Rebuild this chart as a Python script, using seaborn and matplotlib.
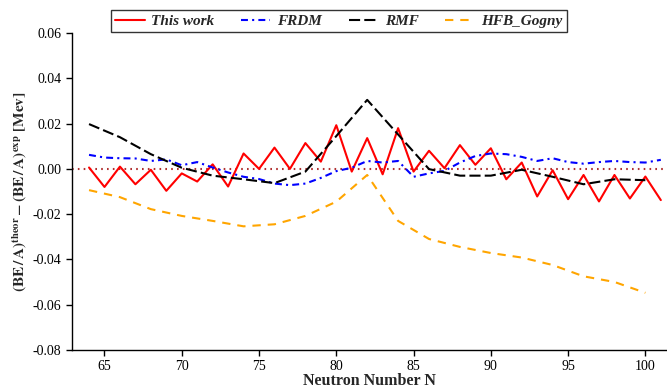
import numpy as np
import pandas as pd
import matplotlib
matplotlib.use("Agg")
import matplotlib.pyplot as plt
import seaborn as sns

sns.set_style("ticks")
plt.rcParams["font.family"] = ["Liberation Serif", "DejaVu Serif"]
plt.rcParams["mathtext.fontset"] = "stix"
plt.rcParams["lines.scale_dashes"] = False

# ---------------------------------------------------
# Data
# ---------------------------------------------------
n_all = list(range(64, 102))
this_work = [0.0006, -0.008, 0.001, -0.0068, -0.0004, -0.0097, -0.002, -0.0056,
             0.002, -0.0078, 0.0068, 0.000, 0.0094, 0.000, 0.0114, 0.0032,
             0.0193, -0.0012, 0.0136, -0.0024, 0.018, -0.0012, 0.008, 0.0003,
             0.0105, 0.0018, 0.0091, -0.0046, 0.0028, -0.0122, -0.0006, -0.0134,
             -0.0027, -0.0144, -0.0027, -0.0131, -0.0034, -0.0138]
frdm = [0.0062, 0.005, 0.0047, 0.0046, 0.0035, 0.0042, 0.0016, 0.003,
        0.0006, -0.0016, -0.0035, -0.0045, -0.0065, -0.0072, -0.0065, -0.004,
        -0.001, 0.0005, 0.0035, 0.0028, 0.0035, -0.0035, -0.002, -0.0009,
        0.0028, 0.0057, 0.0068, 0.0065, 0.0053, 0.0035, 0.0047, 0.003,
        0.0023, 0.003, 0.0035, 0.003, 0.0028, 0.004]

n_even = list(range(64, 101, 2))
rmf = [0.0198, 0.014, 0.0065, 0.0005, -0.003, -0.0046, -0.0063, -0.0012,
       0.0145, 0.0305, 0.0152, -0.0001, -0.003, -0.003, -0.0004, -0.0035,
       -0.0068, -0.0046, -0.005]
hfb_gogny = [-0.0094, -0.0125, -0.0178, -0.0208, -0.023, -0.0254, -0.0245,
             -0.0208, -0.0145, -0.0027, -0.023, -0.031, -0.0345, -0.0372,
             -0.0392, -0.0425, -0.0475, -0.050, -0.0548]

series = [
    ("This work", n_all, this_work, "#ff0000", "-"),
    ("FRDM", n_all, frdm, "#0000ff", (0, (5, 3, 1.5, 3))),
    ("RMF", n_even, rmf, "black", (0, (8, 3))),
    ("HFB_Gogny", n_even, hfb_gogny, "#ffa500", (0, (6, 5))),
]

# ---------------------------------------------------
# Plot
# ---------------------------------------------------
fig = plt.figure(figsize=(6.67, 3.9), dpi=100)
ax = fig.add_axes([0.108, 0.103, 0.892, 0.812])

ax.axhline(0, color="#b03030", lw=1.5, linestyle=(0, (1.2, 3)), zorder=1)

for name, xs, ys, col, ls in series:
    df = pd.DataFrame({"N": xs, "val": ys})
    sns.lineplot(data=df, x="N", y="val", color=col, linestyle=ls, lw=1.5,
                 label=name, ax=ax, legend=False)

ax.set_xlim(62.9, 101.4)
ax.set_ylim(-0.08, 0.06)
ax.set_xticks([65, 70, 75, 80, 85, 90, 95, 100])
ax.set_yticks(np.arange(-0.08, 0.061, 0.02))
ax.yaxis.set_major_formatter(matplotlib.ticker.FormatStrFormatter("%.2f"))
ax.tick_params(direction="out", length=4, width=1, labelsize=10, colors="black")
sns.despine(ax=ax)
for s in ["left", "bottom"]:
    ax.spines[s].set_color("black")
    ax.spines[s].set_linewidth(1)

ax.set_xlabel("Neutron Number N", fontsize=11.5, fontweight="bold", labelpad=0)
ax.set_ylabel(r"$\mathbf{(BE\,/\,A)^{theor}-(BE\,/\,A)^{exp}\ [Mev]}$",
              fontsize=11)
ax.yaxis.set_label_coords(-0.072, 0.5)

handles, labels = ax.get_legend_handles_labels()
leg = fig.legend(handles, labels, loc="upper center", ncol=4,
                 bbox_to_anchor=(0.508, 0.995), frameon=True, fancybox=False,
                 edgecolor="black", handlelength=1.9, handletextpad=0.45,
                 columnspacing=1.75, borderpad=0.3,
                 prop={"style": "italic", "weight": "bold", "size": 11})
leg.get_frame().set_linewidth(1)

fig.savefig("out.png", dpi=100)
